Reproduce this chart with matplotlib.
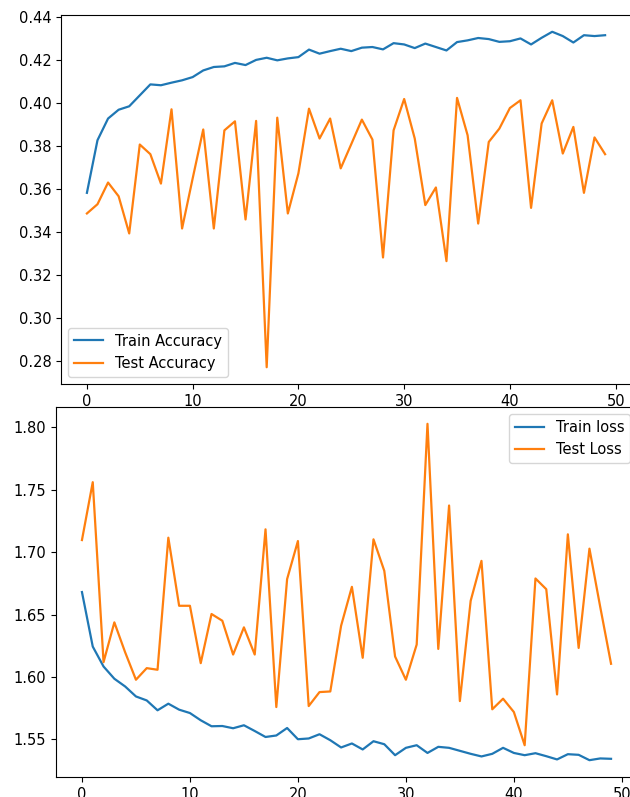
# Train/test accuracy and loss per epoch, two panels
import matplotlib
matplotlib.use("Agg")
import matplotlib.pyplot as plt

epochs = list(range(50))

train_acc = [0.3583, 0.3828, 0.3929, 0.3970, 0.3986, 0.4037, 0.4088, 0.4084, 0.4096, 0.4107,
             0.4122, 0.4153, 0.4169, 0.4172, 0.4188, 0.4178, 0.4202, 0.4212, 0.4200, 0.4209,
             0.4215, 0.4250, 0.4231, 0.4243, 0.4254, 0.4243, 0.4259, 0.4262, 0.4251, 0.4280,
             0.4274, 0.4257, 0.4278, 0.4262, 0.4246, 0.4285, 0.4293, 0.4304, 0.4299, 0.4286,
             0.4289, 0.4302, 0.4274, 0.4305, 0.4333, 0.4313, 0.4283, 0.4317, 0.4313, 0.4317]

test_acc = [0.3487, 0.3530, 0.3631, 0.3567, 0.3394, 0.3808, 0.3763, 0.3626, 0.3972, 0.3417,
            0.3650, 0.3878, 0.3417, 0.3874, 0.3916, 0.3459, 0.3918, 0.2771, 0.3933, 0.3487,
            0.3674, 0.3975, 0.3836, 0.3929, 0.3697, 0.3810, 0.3924, 0.3831, 0.3282, 0.3874,
            0.4020, 0.3836, 0.3526, 0.3608, 0.3265, 0.4025, 0.3851, 0.3440, 0.3820, 0.3882,
            0.3978, 0.4014, 0.3513, 0.3906, 0.4014, 0.3766, 0.3890, 0.3583, 0.3841, 0.3763]

train_loss = [1.6680, 1.6243, 1.6083, 1.5985, 1.5923, 1.5843, 1.5811, 1.5732, 1.5785, 1.5737,
              1.5710, 1.5652, 1.5604, 1.5606, 1.5588, 1.5612, 1.5566, 1.5518, 1.5530, 1.5590,
              1.5500, 1.5506, 1.5540, 1.5492, 1.5434, 1.5466, 1.5418, 1.5484, 1.5460, 1.5372,
              1.5431, 1.5452, 1.5390, 1.5439, 1.5431, 1.5407, 1.5383, 1.5362, 1.5383, 1.5431,
              1.5390, 1.5372, 1.5388, 1.5364, 1.5338, 1.5380, 1.5375, 1.5332, 1.5346, 1.5343]

test_loss = [1.7097, 1.7561, 1.6118, 1.6437, 1.6197, 1.5977, 1.6070, 1.6057, 1.7116, 1.6570,
             1.6570, 1.6110, 1.6504, 1.6450, 1.6179, 1.6397, 1.6179, 1.7183, 1.5758, 1.6784,
             1.7089, 1.5766, 1.5878, 1.5883, 1.6410, 1.6722, 1.6153, 1.7103, 1.6850, 1.6163,
             1.5977, 1.6259, 1.8029, 1.6224, 1.7374, 1.5806, 1.6610, 1.6930, 1.5740, 1.5825,
             1.5718, 1.5452, 1.6789, 1.6703, 1.5859, 1.7143, 1.6232, 1.7028, 1.6560, 1.6105]

plt.rcParams['font.size'] = 10.5
plt.rcParams['lines.linewidth'] = 1.6

W, H = 630, 797
fig = plt.figure(figsize=(W / 100, H / 100), dpi=100)

# top panel (pixel box: left 61, right 631, top 15, bottom 384)
ax1 = fig.add_axes([61 / W, 1 - 384 / H, 570 / W, 369 / H])
ax1.plot(epochs, train_acc, label="Train Accuracy")
ax1.plot(epochs, test_acc, label="Test Accuracy")
ax1.set_xticks([0, 10, 20, 30, 40, 50])
ax1.set_yticks([0.28, 0.30, 0.32, 0.34, 0.36, 0.38, 0.40, 0.42, 0.44])
ax1.legend(loc="lower left")

# bottom panel (pixel box: left 55.5, right 638, top 407, bottom 777)
ax2 = fig.add_axes([55.5 / W, 1 - 777 / H, 582 / W, 370 / H])
ax2.plot(epochs, train_loss, label="Train loss")
ax2.plot(epochs, test_loss, label="Test Loss")
ax2.set_xticks([0, 10, 20, 30, 40, 50])
ax2.set_yticks([1.55, 1.60, 1.65, 1.70, 1.75, 1.80])
ax2.legend(loc="upper right")

plt.savefig("out.png", dpi=100)
